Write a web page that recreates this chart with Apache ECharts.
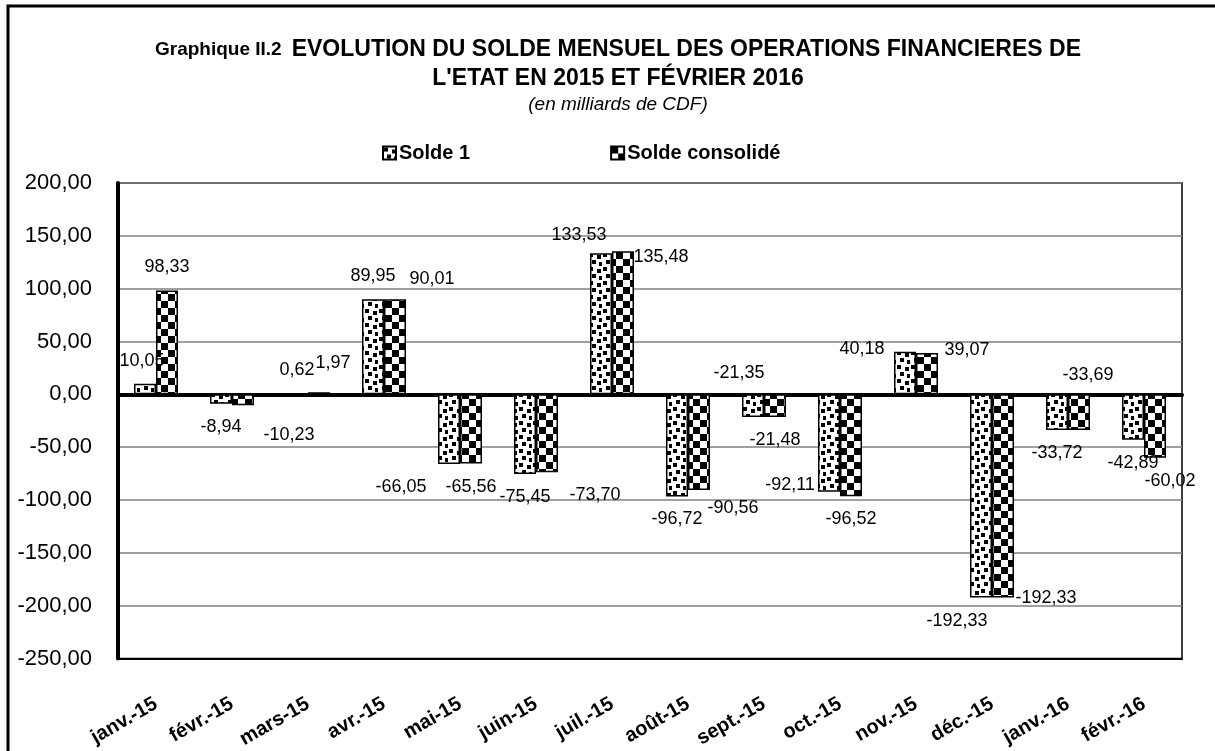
<!DOCTYPE html>
<html>
<head>
<meta charset="utf-8">
<title>Solde mensuel des opérations financières de l'Etat</title>
<script src="https://cdn.jsdelivr.net/npm/echarts@6/dist/echarts.min.js"></script>
<style>
    html, body { margin: 0; padding: 0; background: #fff; }
    #chart { width: 1215px; height: 751px; }
</style>
</head>
<body>
<div id="chart"></div>
<script>
    // données (milliards de CDF)
    var categories = ['janv.-15', 'févr.-15', 'mars-15', 'avr.-15', 'mai-15', 'juin-15', 'juil.-15',
        'août-15', 'sept.-15', 'oct.-15', 'nov.-15', 'déc.-15', 'janv.-16', 'févr.-16'];
    var solde1 = [10.05, -8.94, 0.62, 89.95, -66.05, -75.45, 133.53, -96.72, -21.35, -92.11, 40.18, -192.33, -33.72, -42.89];
    var soldeConsolide = [98.33, -10.23, 1.97, 90.01, -65.56, -73.70, 135.48, -90.56, -21.48, -96.52, 39.07, -192.33, -33.69, -60.02];
    var yMin = -250, yMax = 200, yStep = 50;

    // décalage des étiquettes (placement manuel comme dans Excel)
    var s1LabelShift = [[-3, 0], [0, 0], [0, 0], [0, 0], [-48, 0], [0, 0], [-22, 5],
        [0, 0], [-14, -67], [-39, -30], [-43, 20], [-24, 0], [0, 0], [0, 0]];
    var s2LabelShift = [[0, 0], [46, 7], [14, -6], [37, 3], [0, 0], [48, 0], [38, 29],
        [34, -5], [0, 0], [0, 0], [40, 20], [43, -23], [9, -78], [15, 0]];

    var FONT = "'Liberation Sans', Arial, sans-serif";

    function fmt(v) {
        return Number(v).toFixed(2).replace('.', ',');
    }

    function checkerPattern() {
        var c = document.createElement('canvas');
        c.width = 14; c.height = 14;
        var ctx = c.getContext('2d');
        ctx.fillStyle = '#fff';
        ctx.fillRect(0, 0, 14, 14);
        ctx.fillStyle = '#000';
        ctx.fillRect(0, 0, 7, 7);
        ctx.fillRect(7, 7, 7, 7);
        return c;
    }

    function dotPattern() {
        var c = document.createElement('canvas');
        c.width = 14; c.height = 14;
        var ctx = c.getContext('2d');
        ctx.fillStyle = '#fff';
        ctx.fillRect(0, 0, 14, 14);
        ctx.fillStyle = '#000';
        ctx.fillRect(1, 1, 4, 4);
        ctx.fillRect(9, 3, 4, 4);
        ctx.fillRect(4, 8, 4, 4);
        ctx.fillRect(11, 10, 3, 4);
        return c;
    }

    function barData(values, shifts) {
        return values.map(function (v, i) {
            return {
                value: v,
                label: { position: v >= 0 ? 'top' : 'bottom', offset: shifts[i] }
            };
        });
    }

    var labelStyle = {
        show: true,
        distance: 14,
        color: '#000',
        fontFamily: FONT,
        fontSize: 18,
        formatter: function (p) { return fmt(p.value); }
    };

    var chart = echarts.init(document.getElementById('chart'));
    chart.setOption({
        backgroundColor: '#fff',
        animation: false,
        title: {
            left: 613,
            top: 30,
            textAlign: 'center',
            text: '{a|Graphique II.2}  {b|EVOLUTION DU SOLDE MENSUEL DES OPERATIONS FINANCIERES DE}\n{b|L\'ETAT EN 2015 ET FÉVRIER 2016}',
            textStyle: {
                rich: {
                    a: { fontFamily: FONT, fontWeight: 'bold', fontSize: 19, color: '#000', lineHeight: 29 },
                    b: { fontFamily: FONT, fontWeight: 'bold', fontSize: 23, color: '#000', lineHeight: 29 }
                }
            },
            subtext: '(en milliards de CDF)',
            itemGap: 8,
            subtextStyle: { fontFamily: FONT, fontStyle: 'italic', fontSize: 19, color: '#000' }
        },
        legend: {
            left: 377,
            top: 138,
            itemWidth: 13,
            itemHeight: 13,
            itemGap: 140,
            icon: 'rect',
            textStyle: { fontFamily: FONT, fontWeight: 'bold', fontSize: 20, color: '#000', padding: [0, 0, 0, -2] },
            data: ['Solde 1', 'Solde consolidé']
        },
        graphic: [{
            type: 'rect',
            shape: { x: 8, y: 6, width: 1240, height: 780 },
            style: { fill: 'none', stroke: '#000', lineWidth: 3 },
            silent: true
        }],
        grid: {
            left: 118, right: 33, top: 183, bottom: 91,
            show: true,
            borderColor: '#000',
            borderWidth: 1.5
        },
        xAxis: [{
            type: 'category',
            data: categories,
            position: 'bottom',
            axisLine: { onZero: false, lineStyle: { color: '#000', width: 2 } },
            axisTick: { show: false },
            axisLabel: {
                interval: 0,
                rotate: 30,
                margin: 44,
                color: '#000',
                fontFamily: FONT,
                fontWeight: 'bold',
                fontSize: 20
            }
        }, {
            type: 'category',
            data: categories,
            position: 'top',
            axisLine: { onZero: true, lineStyle: { color: '#000', width: 4 } },
            axisTick: { show: false },
            axisLabel: { show: false }
        }],
        yAxis: {
            type: 'value',
            min: yMin,
            max: yMax,
            interval: yStep,
            axisLine: { show: true, lineStyle: { color: '#000', width: 4 } },
            axisTick: { show: false },
            splitLine: { lineStyle: { color: '#808080', width: 1.5 } },
            axisLabel: {
                margin: 26,
                color: '#000',
                fontFamily: FONT,
                fontSize: 22,
                formatter: fmt
            }
        },
        series: [{
            name: 'Solde 1',
            type: 'bar',
            barWidth: 22,
            barGap: '0%',
            data: barData(solde1, s1LabelShift),
            itemStyle: { color: { image: dotPattern(), repeat: 'repeat' }, borderColor: '#000', borderWidth: 1.5 },
            label: labelStyle
        }, {
            name: 'Solde consolidé',
            type: 'bar',
            barWidth: 22,
            barGap: '0%',
            data: barData(soldeConsolide, s2LabelShift),
            itemStyle: { color: { image: checkerPattern(), repeat: 'repeat' }, borderColor: '#000', borderWidth: 1.5 },
            label: labelStyle
        }]
    });
</script>
</body>
</html>
